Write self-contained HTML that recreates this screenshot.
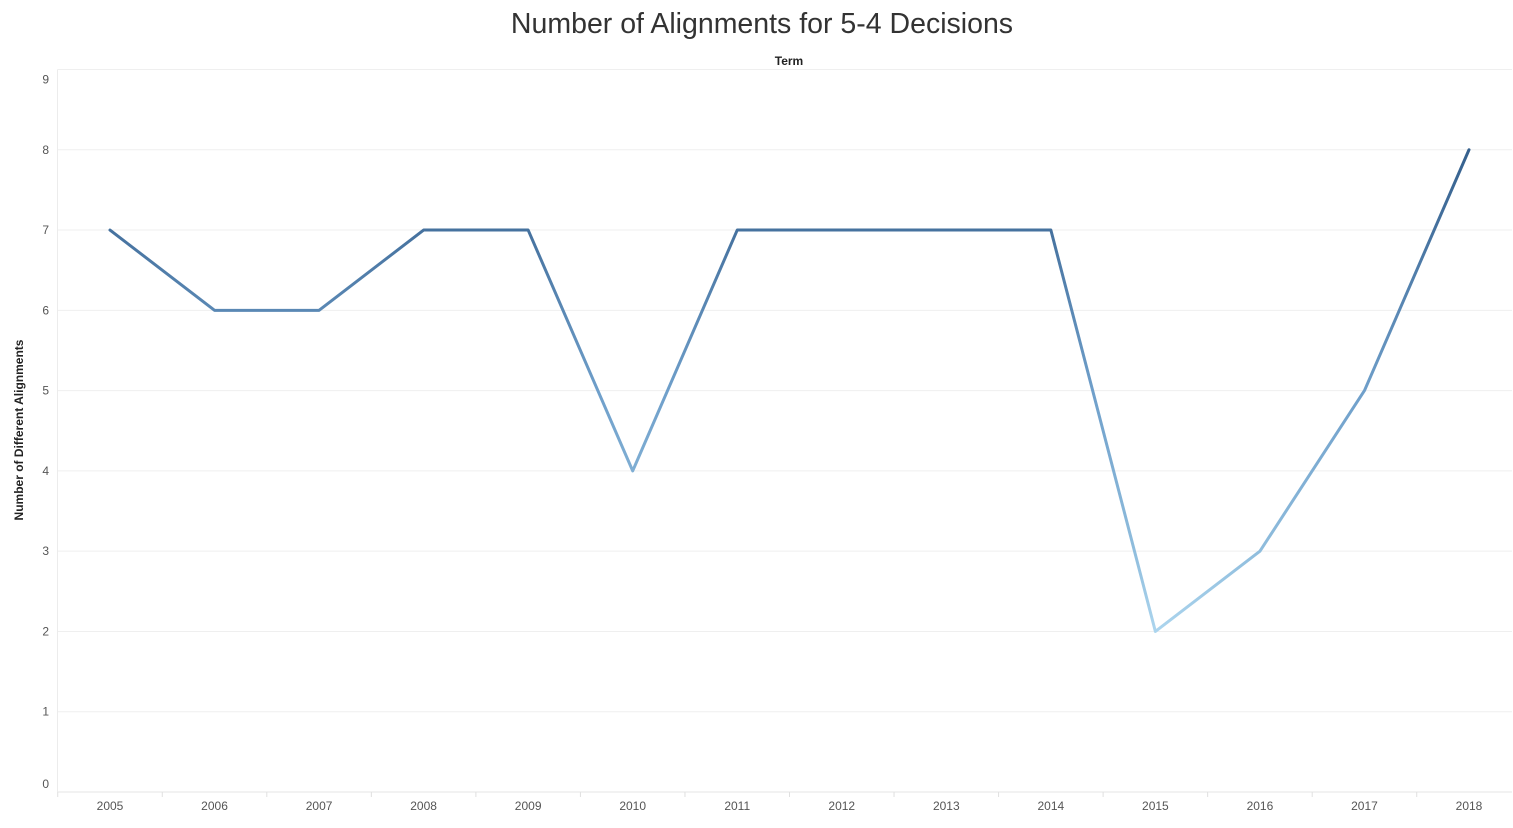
<!DOCTYPE html>
<html><head><meta charset="utf-8">
<style>
body{margin:0;background:#fff;font-family:"Liberation Sans",sans-serif;}
svg text{font-family:"Liberation Sans",sans-serif;}
</style></head>
<body>
<svg id="chart" width="1513" height="823" viewBox="0 0 1513 823">
<defs>
<linearGradient id="lg" gradientUnits="userSpaceOnUse" x1="0" y1="150" x2="0" y2="632">
<stop offset="0" stop-color="#35608d"/>
<stop offset="0.17" stop-color="#46729f"/>
<stop offset="0.5" stop-color="#6f9fca"/>
<stop offset="0.83" stop-color="#8fbddd"/>
<stop offset="1" stop-color="#acd5ee"/>
</linearGradient>
</defs>
<text x="762" y="33" text-anchor="middle" font-size="28.5" fill="#333">Number of Alignments for 5-4 Decisions</text>
<text x="789" y="65" text-anchor="middle" font-size="12" font-weight="bold" fill="#222">Term</text>
<text transform="translate(23,430) rotate(-90)" text-anchor="middle" font-size="12" font-weight="bold" fill="#222">Number of Different Alignments</text>
<g id="grid"></g>
<g id="marks"></g>
</svg>
<script>
const years = [2005,2006,2007,2008,2009,2010,2011,2012,2013,2014,2015,2016,2017,2018];
const alignments = [7,6,6,7,7,4,7,7,7,7,2,3,5,8];
const yTicks = [0,1,2,3,4,5,6,7,8,9];

const plotLeft = 57.5, plotRight = 1512, plotTop = 69.5, plotBottom = 792;
const firstX = 110, lastX = 1469;
const band = (lastX - firstX) / (years.length - 1);
const xs = i => firstX + band * i;
const ys = v => plotBottom - (plotBottom - plotTop) * v / 9;
const NS = "http://www.w3.org/2000/svg";
const grid = document.getElementById('grid');
const marks = document.getElementById('marks');
function mk(tag, attrs, parent) {
  const e = document.createElementNS(NS, tag);
  for (const k in attrs) e.setAttribute(k, attrs[k]);
  parent.appendChild(e);
  return e;
}
yTicks.forEach(v => {
  const y = ys(v);
  const l = mk('line', {x1: plotLeft, x2: plotRight, y1: y, y2: y, stroke: v === 0 ? '#e6e6e6' : '#efefef', 'stroke-width': 1}, grid);
  
  
  let ty = y + 4;
  if (v === 0) ty = y - 4;
  if (v === 9) ty = y + 14;
  const t = mk('text', {x: 49, y: ty, 'text-anchor': 'end', 'font-size': 12, fill: '#555'}, grid);
  t.textContent = v;
  
  
});
const ax = mk('line', {x1: plotLeft, x2: plotLeft, y1: plotTop, y2: plotBottom, stroke: '#ececec'}, grid);


years.forEach((yr, i) => {
  const tx = xs(i) - band / 2;
  const tk = mk('line', {x1: tx, x2: tx, y1: plotBottom, y2: plotBottom + 5, stroke: '#e0e0e0'}, grid);
  
  
  const t = mk('text', {x: xs(i), y: 810, 'text-anchor': 'middle', 'font-size': 12, fill: '#555'}, grid);
  t.textContent = yr;
  
  
});
const d = alignments.map((v, i) => (i ? 'L' : 'M') + xs(i) + ',' + ys(v)).join(' ');
const p = mk('path', {d: d, fill: 'none', stroke: 'url(#lg)', 'stroke-width': 3, 'stroke-linejoin': 'round', 'stroke-linecap': 'round'}, marks);


</script>
</body></html>
